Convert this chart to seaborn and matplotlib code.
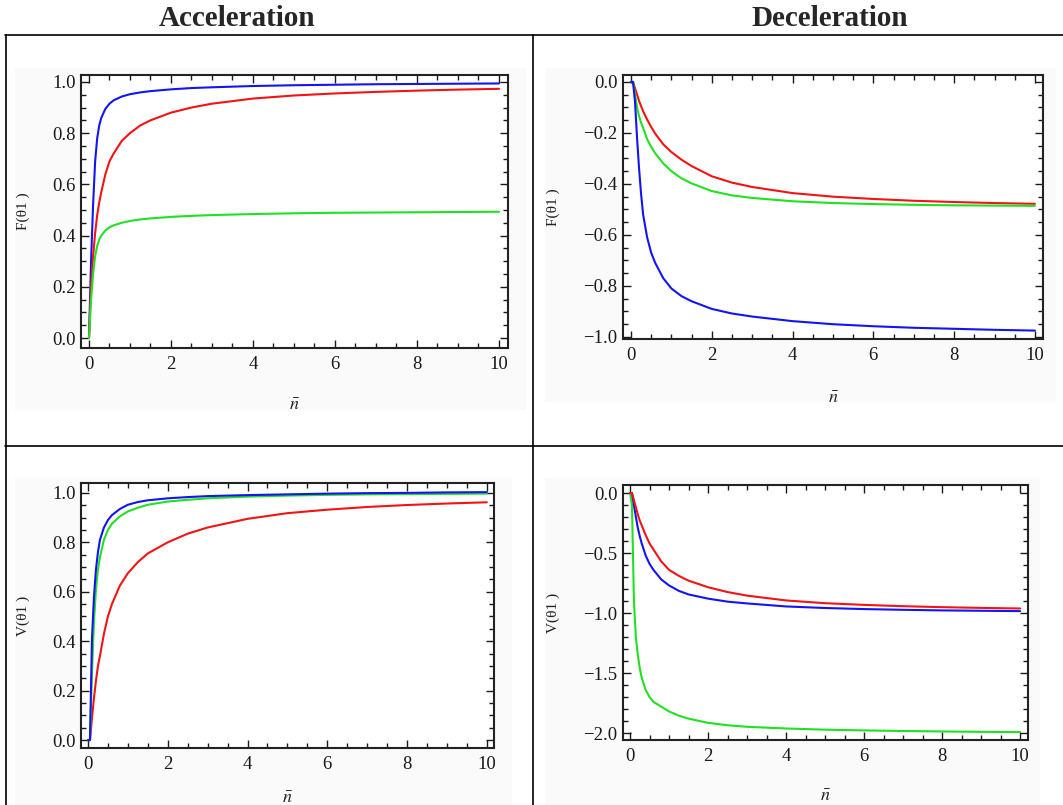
import matplotlib
matplotlib.use("Agg")
import matplotlib.pyplot as plt
import seaborn as sns
from matplotlib.lines import Line2D
from matplotlib.patches import Rectangle
from matplotlib.ticker import MultipleLocator

## Datos (eje x comun: n barra)
x_n = [0, 0.05, 0.1, 0.15, 0.2, 0.25, 0.3, 0.4, 0.5, 0.6, 0.8, 1.0, 1.25, 1.5,
       2, 2.5, 3, 4, 5, 6, 7, 8, 9, 10]

# F(theta1) - Acceleration
f_acc_blue = [0, 0.30, 0.52, 0.69, 0.78, 0.83, 0.86, 0.895, 0.915, 0.928, 0.943, 0.952,
              0.959, 0.964, 0.971, 0.976, 0.979, 0.984, 0.987, 0.989, 0.991, 0.992, 0.993, 0.994]
f_acc_red = [0, 0.20, 0.32, 0.41, 0.48, 0.53, 0.57, 0.64, 0.69, 0.72, 0.77, 0.80,
             0.83, 0.85, 0.88, 0.90, 0.915, 0.935, 0.947, 0.955, 0.961, 0.966, 0.970, 0.973]
f_acc_green = [0, 0.15, 0.25, 0.32, 0.36, 0.385, 0.40, 0.42, 0.432, 0.44, 0.45, 0.457,
               0.463, 0.467, 0.473, 0.477, 0.480, 0.484, 0.487, 0.489, 0.490, 0.491, 0.492, 0.493]

# F(theta1) - Deceleration
f_dec_blue = [0, 0, -0.08, -0.22, -0.34, -0.44, -0.52, -0.61, -0.67, -0.71, -0.77, -0.81,
              -0.84, -0.86, -0.89, -0.908, -0.92, -0.938, -0.95, -0.958, -0.964, -0.968, -0.972, -0.975]
f_dec_red = [0, 0, -0.025, -0.05, -0.075, -0.095, -0.115, -0.148, -0.177, -0.203, -0.245, -0.275,
             -0.305, -0.33, -0.37, -0.395, -0.412, -0.436, -0.450, -0.459, -0.466, -0.471, -0.475, -0.478]
f_dec_green = [0, 0, -0.05, -0.10, -0.135, -0.16, -0.18, -0.225, -0.255, -0.28, -0.32, -0.35,
               -0.378, -0.398, -0.428, -0.445, -0.455, -0.468, -0.475, -0.479, -0.482, -0.484, -0.485, -0.486]

# V(theta1) - Acceleration
v_acc_blue = [0, 0, 0.41, 0.58, 0.69, 0.76, 0.81, 0.86, 0.89, 0.91, 0.935, 0.952,
              0.963, 0.970, 0.978, 0.983, 0.987, 0.991, 0.994, 0.997, 0.999, 1.0, 1.002, 1.003]
v_acc_red = [0, 0, 0.09, 0.17, 0.24, 0.30, 0.34, 0.43, 0.50, 0.55, 0.625, 0.675,
             0.72, 0.755, 0.80, 0.835, 0.86, 0.895, 0.918, 0.932, 0.943, 0.951, 0.957, 0.962]
v_acc_green = [0, 0, 0.27, 0.48, 0.61, 0.69, 0.74, 0.81, 0.85, 0.875, 0.905, 0.925,
               0.94, 0.952, 0.965, 0.972, 0.978, 0.985, 0.989, 0.992, 0.994, 0.995, 0.996, 0.997]

# V(theta1) - Deceleration
v_dec_blue = [0, 0, -0.10, -0.20, -0.29, -0.36, -0.42, -0.52, -0.59, -0.64, -0.72, -0.77,
              -0.815, -0.845, -0.88, -0.905, -0.92, -0.945, -0.958, -0.967, -0.973, -0.978, -0.981, -0.984]
v_dec_red = [0, 0, -0.06, -0.12, -0.18, -0.23, -0.27, -0.35, -0.42, -0.47, -0.57, -0.64,
             -0.69, -0.73, -0.785, -0.825, -0.855, -0.895, -0.918, -0.932, -0.943, -0.951, -0.957, -0.962]
v_dec_green = [0, -0.10, -0.90, -1.20, -1.35, -1.46, -1.54, -1.64, -1.70, -1.74, -1.78, -1.82,
               -1.855, -1.88, -1.915, -1.935, -1.948, -1.962, -1.972, -1.978, -1.983, -1.987, -1.990, -1.992]

titulos = ["Acceleration", "Deceleration"]

AZUL, ROJO, VERDE = "#1414f0", "#f01414", "#22e022"

sns.set_style("ticks")
plt.rcParams['font.family'] = ['Liberation Serif', 'DejaVu Serif']
plt.rcParams['mathtext.fontset'] = 'stix'

W, H = 1063, 805
fig = plt.figure(figsize=(W / 100, H / 100), dpi=100)


def fx(px):
    return px / W


def fy(py):
    return 1 - py / H


## Fondo gris muy claro de cada imagen (detras de los ejes)
for (x0, y0, x1, y1) in [(15, 68, 526, 410), (545, 68, 1056, 402),
                         (15, 478, 512, 805), (545, 478, 1040, 805)]:
    fig.patches.append(Rectangle((fx(x0), fy(y1)), fx(x1 - x0), (y1 - y0) / H,
                                 transform=fig.transFigure, facecolor="#fafafa",
                                 edgecolor="none", zorder=-5))

## Lineas de la tabla
for (xa, ya, xb, yb) in [(5, 35, 1063, 35), (5, 446, 1063, 446),
                         (6, 35, 6, 805), (533, 35, 533, 805)]:
    fig.add_artist(Line2D([fx(xa), fx(xb)], [fy(ya), fy(yb)], color="black", lw=1.2))

fig.text(fx(237), fy(18), titulos[0], ha="center", va="center", fontsize=21, weight="bold")
fig.text(fx(830), fy(18), titulos[1], ha="center", va="center", fontsize=21, weight="bold")

paneles = [
    # caja (izq, arriba, der, abajo) en px, limites y etiquetas
    dict(caja=(81, 75, 508, 348), xlim=(-0.195, 10.22), ylim=(-0.039, 1.027), my=0.2, ny=0.05,
         ylab="F(θ1 )", ylab_x=30, xlab_y=397,
         series=[(f_acc_blue, AZUL), (f_acc_red, ROJO), (f_acc_green, VERDE)]),
    dict(caja=(623, 75, 1043, 339), xlim=(-0.198, 10.2), ylim=(-1.008, 0.027), my=0.2, ny=0.05,
         ylab="F(θ1 )", ylab_x=560, xlab_y=390,
         series=[(f_dec_red, ROJO), (f_dec_green, VERDE), (f_dec_blue, AZUL)]),
    dict(caja=(81, 483, 494, 748), xlim=(-0.175, 10.18), ylim=(-0.032, 1.04), my=0.2, ny=0.05,
         ylab="V(θ1 )", ylab_x=30, xlab_y=790,
         series=[(v_acc_red, ROJO), (v_acc_green, VERDE), (v_acc_blue, AZUL)]),
    dict(caja=(623, 485, 1028, 740), xlim=(-0.18, 10.2), ylim=(-2.058, 0.067), my=0.5, ny=0.1,
         ylab="V(θ1 )", ylab_x=560, xlab_y=788,
         series=[(v_dec_green, VERDE), (v_dec_blue, AZUL), (v_dec_red, ROJO)]),
]

for p in paneles:
    l, t, r, b = p["caja"]
    ax = fig.add_axes([fx(l), fy(b), (r - l) / W, (b - t) / H])
    ax.set_facecolor("white")
    for vals, col in p["series"]:
        sns.lineplot(x=x_n, y=vals, color=col, lw=1.5, ax=ax, legend=False)

    ax.set_xlim(*p["xlim"])
    ax.set_ylim(*p["ylim"])
    ax.xaxis.set_major_locator(MultipleLocator(2))
    ax.xaxis.set_minor_locator(MultipleLocator(0.5))
    ax.yaxis.set_major_locator(MultipleLocator(p["my"]))
    ax.yaxis.set_minor_locator(MultipleLocator(p["ny"]))
    ax.tick_params(which="both", direction="in", top=True, right=True, colors="#1a1a1a",
                   labelsize=13.5, width=1.0)
    ax.tick_params(which="major", length=6)
    ax.tick_params(which="minor", length=3.5)
    ax.tick_params(axis="x", pad=6)
    ax.tick_params(axis="y", pad=4)
    for s in ax.spines.values():
        s.set_linewidth(1.5)
        s.set_color("#222222")

    ax.set_ylabel(p["ylab"], fontsize=11, color="#222222")
    ax.yaxis.set_label_coords((p["ylab_x"] - l) / (r - l), 0.5)
    ax.set_xlabel(r"$\bar{n}$", fontsize=13, color="#222222")
    ax.xaxis.set_label_coords(0.5, -(p["xlab_y"] - b) / (b - t))

fig.savefig("out.png", dpi=100)
